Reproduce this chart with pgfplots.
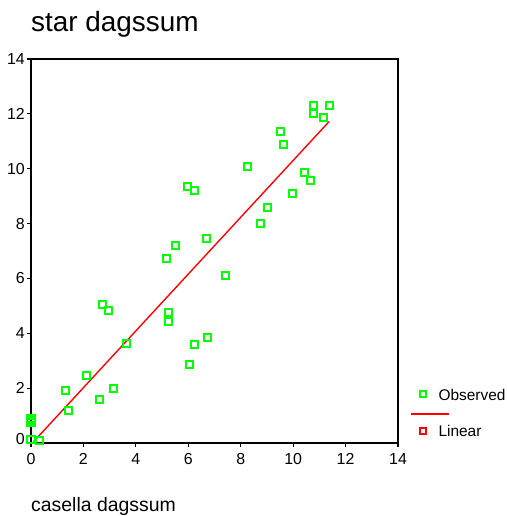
\documentclass[border=0pt]{standalone}
\usepackage{fontspec}
\setmainfont{Liberation Sans}
\usepackage{pgfplots}
\pgfplotsset{compat=1.18}
\definecolor{obsgreen}{RGB}{0,255,0}
\definecolor{fitred}{RGB}{255,0,0}

\pgfplotstableread{
x y
0.00 0.90
0.00 0.83
0.00 0.76
0.00 0.13
0.34 0.10
1.31 1.91
1.43 1.18
2.13 2.47
2.61 1.59
2.73 5.04
2.94 4.83
3.15 2.00
3.64 3.64
5.16 6.74
5.26 4.77
5.26 4.42
5.53 7.20
5.96 9.35
6.03 2.88
6.23 9.21
6.25 3.60
6.68 7.45
6.73 3.85
7.43 6.12
8.24 10.08
8.77 8.02
9.04 8.59
9.51 11.37
9.64 10.89
9.96 9.11
10.45 9.87
10.66 9.57
10.78 12.30
10.78 12.02
11.16 11.88
11.37 12.30
}\observed

\begin{document}
\begin{tikzpicture}
\useasboundingbox (-31bp,-73bp) rectangle (476bp,443bp);
\begin{axis}[
  at={(0,0)}, anchor=south west,
  scale only axis,
  width=367bp, height=384bp,
  xmin=0, xmax=14, ymin=0, ymax=14,
  xtick={0,2,...,14}, ytick={0,2,...,14},
  clip=false,
  axis line style={line width=1.2bp, black},
  tick style={line width=1.2bp, black},
  tick align=outside,
  major tick length=4bp,
  xtick pos=bottom, ytick pos=left,
  /pgf/number format/assume math mode=true,
  tick label style={font=\fontsize{16}{18}\selectfont, inner sep=0pt},
  xticklabel style={anchor=north, yshift=-6bp},
  yticklabel style={anchor=east, xshift=-2bp},
  yticklabel={\ifnum\ticknum=0 \raisebox{8bp}{0}\else\pgfmathprintnumber{\tick}\fi},
  title={star dagssum},
  title style={at={(rel axis cs:0,1)}, anchor=base west, yshift=22bp,
    inner sep=0pt, font=\fontsize{28}{32}\selectfont},
  xlabel={casella dagssum},
  xlabel style={at={(rel axis cs:0,0)}, anchor=base west, yshift=-68.7bp,
    inner sep=0pt, font=\fontsize{19.5}{22}\selectfont},
  legend style={at={(385.3bp,30.5bp)}, anchor=west, draw=none, fill=none,
    font=\fontsize{15.5}{18}\selectfont, inner sep=0pt,
    cells={anchor=west}, row sep=26.4bp, column sep=0pt,
    nodes={inner sep=0pt}},
  legend cell align=left,
]
% observed values
\addplot[obsgreen, only marks, mark=square, mark size=3.5bp,
  mark options={draw=obsgreen, line width=2bp, fill=none},
  legend image code/.code={
    \path[draw=none, fill=none] (-6bp,-5bp) rectangle (16bp,5bp);
    \draw[obsgreen, line width=2bp] (-3bp,-3bp) rectangle (3bp,3bp);
  }] table {\observed};
\addlegendentry{\raisebox{-3bp}{Observed}}

% linear fit
\addplot[fitred, line width=1.4bp,
  legend image code/.code={
    \path[draw=none, fill=none] (-6bp,-5bp) rectangle (16bp,5bp);
    \draw[overlay, fitred, line width=2bp] (-11.3bp,16.4bp) -- (26bp,16.4bp);
    \draw[fitred, line width=2bp] (-3bp,-3bp) rectangle (3bp,3bp);
  }] coordinates {(0.1,0.05) (11.37,11.718)};
\addlegendentry{\raisebox{-2bp}{Linear}}
\end{axis}
\end{tikzpicture}
\end{document}
